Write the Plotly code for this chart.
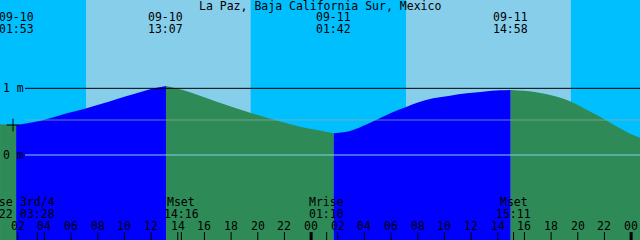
import plotly.graph_objects as go

# ---------------- data ----------------
TITLE = "La Paz, Baja California Sur, Mexico"

# tide samples: hours since 09-10 00:00, height in metres
tide_hours = [0.67, 1.88, 3.15, 4.42, 5.69, 6.90, 8.17, 9.45, 10.65, 11.92,
              13.12, 14.39, 15.67, 16.92, 18.15, 19.42, 20.69, 21.89, 23.17, 24.45,
              25.70, 26.92, 28.19, 29.39, 30.67, 31.95, 33.15, 34.42, 35.69, 36.89,
              38.17, 38.97, 40.65, 41.92, 43.19, 44.39, 45.67, 46.95, 48.15, 48.67]
tide_m = [0.46, 0.45, 0.49, 0.55, 0.625, 0.685, 0.76, 0.84, 0.91, 0.985,
          1.035, 0.975, 0.89, 0.80, 0.715, 0.635, 0.56, 0.49, 0.425, 0.375,
          0.325, 0.36, 0.46, 0.575, 0.685, 0.785, 0.85, 0.89, 0.925, 0.95,
          0.97, 0.975, 0.95, 0.90, 0.825, 0.71, 0.575, 0.425, 0.30, 0.26]

# high / low waters
extreme_dates = ["09-10", "09-10", "09-11", "09-11"]
extreme_times = ["01:53", "13:07", "01:42", "14:58"]
extreme_day = [0, 0, 1, 1]

# sun (daylight bands)
sunrise_times = ["07:07", "07:07"]
sunset_times = ["19:28", "19:29"]
sun_day = [0, 1]

# moon events (bottom labels)
event_names = ["Mrise", "3rd/4", "Mset", "Mrise", "Mset"]
event_times = ["00:22", "03:28", "14:16", "01:10", "15:11"]
event_day = [0, 0, 0, 1, 1]

# level lines
level_values = [1.0, 0.0]
level_labels = ["1 m", "0 m"]
mid_level = 0.525
mark_level = 0.45

# ---------------- helpers ----------------
X0 = 0.667            # left edge (hours after 09-10 00:00)
SPAN = 48.0
W, H = 640, 240
Y_BOTTOM, Y_TOP = -1.275, 2.325

def hrs(t, day):
    h, m = t.split(":")
    return day * 24 + int(h) + int(m) / 60.0

def px(h):  # hours -> paper x
    return (h - X0) / SPAN

def py(p):  # pixel row -> paper y
    return 1 - p / H

NIGHT = "#00BFFF"
DAY = "#87CEEB"
RISE = "#0000FF"
FALL = "#2E8B57"
FONT = dict(family="DejaVu Sans Mono", size=11.5, color="black")

fig = go.Figure()

# ---------------- tide fills ----------------
ext_h = [hrs(t, d) for t, d in zip(extreme_times, extreme_day)]
ext_idx = [min(range(len(tide_hours)), key=lambda i: abs(tide_hours[i] - e)) for e in ext_h]
cuts = [0] + ext_idx + [len(tide_hours) - 1]
for a, b in zip(cuts[:-1], cuts[1:]):
    xs = tide_hours[a:b + 1]
    ys = tide_m[a:b + 1]
    col = RISE if ys[-1] > ys[0] else FALL
    fig.add_trace(go.Scatter(x=[xs[0], xs[-1]], y=[-2, -2], mode="lines",
                             line=dict(width=0), hoverinfo="skip", showlegend=False))
    fig.add_trace(go.Scatter(x=xs, y=ys, mode="lines",
                             line=dict(width=0, shape="spline", smoothing=1.0, color=col),
                             fill="tonexty", fillcolor=col, hoverinfo="skip", showlegend=False))

# mark
fig.add_trace(go.Scatter(x=[X0 + 13 / (W / SPAN)], y=[mark_level], mode="markers",
                         marker=dict(symbol="cross-thin", size=9,
                                     line=dict(width=1, color="black")),
                         hoverinfo="skip", showlegend=False))

shapes = []
# daylight bands
for sr, ss, d in zip(sunrise_times, sunset_times, sun_day):
    shapes.append(dict(type="rect", xref="x", yref="paper", x0=hrs(sr, d), x1=hrs(ss, d),
                       y0=0, y1=1, fillcolor=DAY, line=dict(width=0), layer="below"))

# level lines
lx0 = 25 / W
shapes.append(dict(type="line", xref="paper", yref="y", x0=lx0, x1=1,
                   y0=level_values[0], y1=level_values[0],
                   line=dict(color="black", width=1), layer="above"))
shapes.append(dict(type="line", xref="paper", yref="y", x0=lx0, x1=1,
                   y0=mid_level, y1=mid_level,
                   line=dict(color="rgba(150,170,170,0.7)", width=1), layer="above"))
shapes.append(dict(type="line", xref="paper", yref="y", x0=lx0, x1=1,
                   y0=level_values[1], y1=level_values[1],
                   line=dict(color=DAY, width=1), layer="above"))

annotations = []
def label(text, xp, yp, anchor="center", **kw):
    annotations.append(dict(text=text, xref="paper", yref="paper", x=xp, y=yp,
                            xanchor=anchor, yanchor="middle", showarrow=False,
                            font=FONT, **kw))

# title
label(TITLE, 0.5, py(6))
# extremes labels
for dt, t, h in zip(extreme_dates, extreme_times, ext_h):
    label(dt, px(h), py(17))
    label(t, px(h), py(29))
# level labels
for v, lab in zip(level_values, level_labels):
    annotations.append(dict(text=lab, xref="paper", yref="y", x=0, y=v, xshift=1,
                            xanchor="left", yanchor="middle", showarrow=False, font=FONT))
# moon events
for n, t, d in zip(event_names, event_times, event_day):
    h = hrs(t, d)
    label(n, px(h), py(202))
    label(t, px(h), py(214))
    shapes.append(dict(type="line", xref="x", yref="paper", x0=h, x1=h,
                       y0=0, y1=8 / H, line=dict(color="black", width=1), layer="above"))
# hour ticks
for hh in range(2, 49, 2):
    label(f"{hh % 24:02d}", px(hh), py(226))
    shapes.append(dict(type="line", xref="x", yref="paper", x0=hh, x1=hh,
                       y0=0, y1=8 / H,
                       line=dict(color="black", width=3 if hh % 24 == 0 else 1),
                       layer="above"))

fig.update_layout(
    width=W, height=H, margin=dict(l=0, r=0, t=0, b=0),
    paper_bgcolor=NIGHT, plot_bgcolor=NIGHT,
    xaxis=dict(range=[X0, X0 + SPAN], visible=False, fixedrange=True),
    yaxis=dict(range=[Y_BOTTOM, Y_TOP], visible=False, fixedrange=True),
    shapes=shapes, annotations=annotations, showlegend=False,
)

fig.write_html("out.html", config={"displayModeBar": False})
